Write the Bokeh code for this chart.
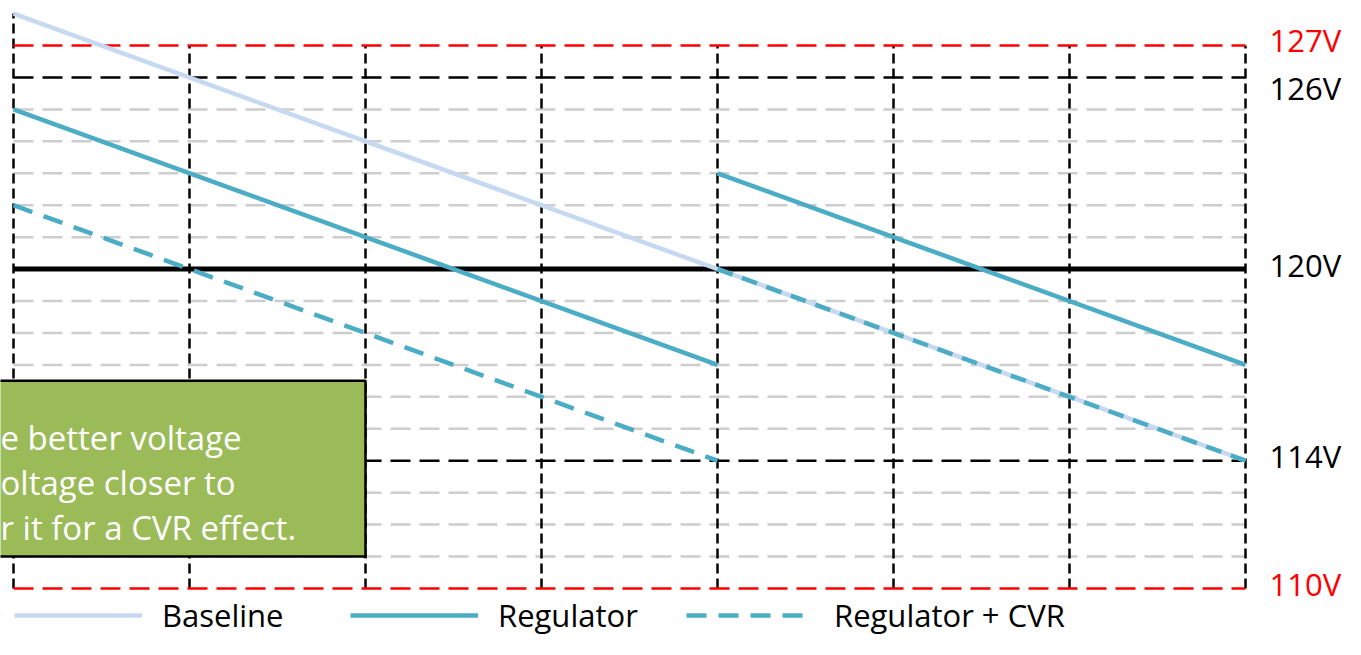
from bokeh.plotting import figure
from bokeh.models import Range1d, Legend, LegendItem, ColumnDataSource
from bokeh.core.properties import value
from bokeh.embed import file_html
from bokeh.resources import INLINE

# ---------------- data ----------------
x_steps = [0, 1, 2, 3, 4, 5, 6, 7]

baseline_x = [0, 7]
baseline_v = [128, 114]

regulator_a_x = [0, 4]
regulator_a_v = [125, 117]
regulator_b_x = [4, 7]
regulator_b_v = [123, 117]

cvr_a_x = [0, 4]
cvr_a_v = [122, 114]
cvr_b_x = [4, 7]
cvr_b_v = [120, 114]

gray_levels = [125, 124, 123, 122, 121, 119, 118, 117, 116, 115, 113, 112, 111]
band_levels = [126, 114]      # black dashed
limit_levels = [127, 110]     # red dashed
nominal_level = 120

label_values = [127, 126, 120, 114, 110]
label_texts = ["127V", "126V", "120V", "114V", "110V"]
label_colors = ["#FF0000", "black", "black", "black", "#FF0000"]
label_dy = [-6, 11, -4, -5, -4]   # pixel nudges

note_lines = ["e better voltage", "oltage closer to", "r it for a CVR effect."]
note_top = 116.5
note_bottom = 111
note_right = 2

# ---------------- figure ----------------
W, H = 1345, 639
PX_X = 176.0
PX_Y = 31.94
x0 = -13 / PX_X
y_top = 127 + 45 / PX_Y
p = figure(width=W, height=H, output_backend="svg", toolbar_location=None,
           x_range=Range1d(x0, x0 + W / PX_X),
           y_range=Range1d(y_top - H / PX_Y, y_top),
           x_axis_type=None, y_axis_type=None, min_border=0)
p.grid.visible = False
p.outline_line_color = None
p.background_fill_color = "white"
p.border_fill_color = "white"

xmin, xmax = x_steps[0], x_steps[-1]

# gray grid
p.segment(x0=[xmin] * len(gray_levels), x1=[xmax] * len(gray_levels),
          y0=gray_levels, y1=gray_levels,
          line_color="#CDCDCD", line_width=2.5, line_dash="20 9")

# vertical dashed lines
vx = x_steps[1:]
p.segment(x0=vx, x1=vx, y0=[limit_levels[1]] * len(vx), y1=[limit_levels[0]] * len(vx),
          line_color="black", line_width=2.5, line_dash="10 5")
p.segment(x0=[xmin], x1=[xmin], y0=[limit_levels[1]], y1=[max(baseline_v)],
          line_color="black", line_width=2.5, line_dash="10 5")

# black dashed band lines
p.segment(x0=[xmin] * 2, x1=[xmax] * 2, y0=band_levels, y1=band_levels,
          line_color="black", line_width=2.5, line_dash="20 9")
# red limits
p.segment(x0=[xmin] * 2, x1=[xmax] * 2, y0=limit_levels, y1=limit_levels,
          line_color="#FF0000", line_width=2.5, line_dash="20 9")

# note box
p.quad(left=[x0 - 1], right=[note_right], top=[note_top], bottom=[note_bottom],
       fill_color="#9BBB59", line_color="black", line_width=2.5)
p.text(x=[x0] * 3, y=[note_top] * 3, text=note_lines,
       y_offset=[57, 102, 147], text_color="white",
       text_font=value("Open Sans"), text_font_size="33px",
       text_baseline="alphabetic", text_align="left")

# nominal 120V
p.line([xmin, xmax], [nominal_level, nominal_level], line_color="black", line_width=5)

# data lines
r_base = p.line(baseline_x, baseline_v, line_color="#C6D9F1", line_width=4.5)
r_reg = p.line(regulator_a_x, regulator_a_v, line_color="#4BACC6", line_width=4.5)
p.line(regulator_b_x, regulator_b_v, line_color="#4BACC6", line_width=4.5)
r_cvr = p.line(cvr_a_x, cvr_a_v, line_color="#4BACC6", line_width=4.5, line_dash="20 12")
p.line(cvr_b_x, cvr_b_v, line_color="#4BACC6", line_width=4.5, line_dash="16 10")

# right labels
src = ColumnDataSource(dict(y=label_values, t=label_texts, c=label_colors, dy=label_dy))
p.text(x=xmax, y="y", text="t", text_color="c", y_offset="dy", x_offset=24,
       source=src, text_font=value("Open Sans"), text_font_size="31px",
       text_baseline="middle", text_align="left")

# legend (three equally spaced items)
for i, (lab, r) in enumerate([("Baseline", r_base), ("Regulator", r_reg),
                              ("Regulator + CVR", r_cvr)]):
    lg = Legend(items=[LegendItem(label=lab, renderers=[r])],
                location=(14 + 336 * i, 3), orientation="horizontal",
                glyph_width=128, glyph_height=34, label_height=34,
                label_standoff=20, padding=0, margin=0,
                border_line_color=None, background_fill_alpha=0,
                label_text_font="Open Sans", label_text_font_size="31px",
                label_text_color="black")
    p.add_layout(lg)

open("out.html", "w").write(file_html(p, INLINE))
